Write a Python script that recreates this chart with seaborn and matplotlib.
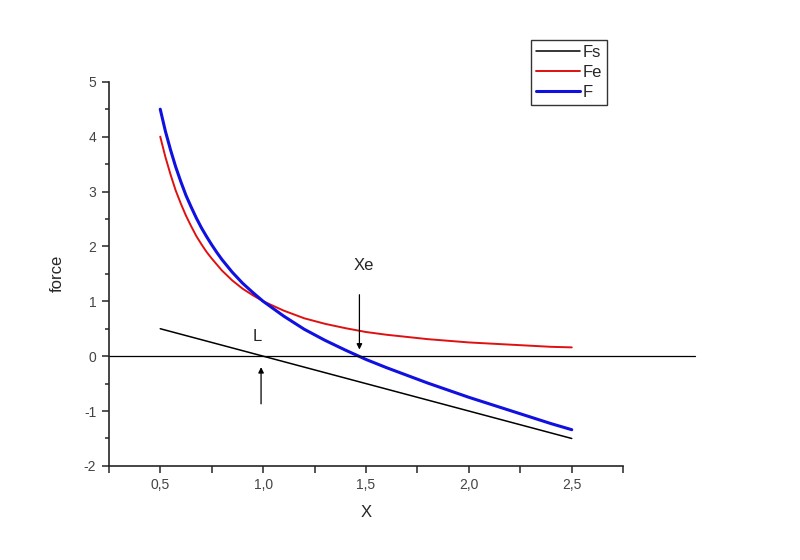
import pandas as pd
import seaborn as sns
import matplotlib.pyplot as plt
from matplotlib.ticker import MultipleLocator, FuncFormatter

# values
x_vals = [0.5, 0.525, 0.55, 0.575, 0.6, 0.625, 0.65, 0.675, 0.7, 0.725, 0.75, 0.775,
          0.8, 0.85, 0.9, 0.95, 1.0, 1.1, 1.2, 1.3, 1.4, 1.5, 1.6, 1.7, 1.8, 1.9,
          2.0, 2.1, 2.2, 2.3, 2.4, 2.5]
fs_vals = [0.5, 0.475, 0.45, 0.425, 0.4, 0.375, 0.35, 0.325, 0.3, 0.275, 0.25, 0.225,
           0.2, 0.15, 0.1, 0.05, 0.0, -0.1, -0.2, -0.3, -0.4, -0.5, -0.6, -0.7, -0.8, -0.9,
           -1.0, -1.1, -1.2, -1.3, -1.4, -1.5]
fe_vals = [4.00, 3.63, 3.31, 3.02, 2.78, 2.56, 2.37, 2.19, 2.04, 1.90, 1.78, 1.67,
           1.56, 1.38, 1.23, 1.11, 1.00, 0.83, 0.69, 0.59, 0.51, 0.44, 0.39, 0.35, 0.31, 0.28,
           0.25, 0.23, 0.21, 0.19, 0.17, 0.16]
f_vals = [4.50, 4.10, 3.76, 3.45, 3.18, 2.93, 2.72, 2.52, 2.34, 2.18, 2.03, 1.89,
          1.76, 1.53, 1.33, 1.16, 1.00, 0.73, 0.49, 0.29, 0.11, -0.06, -0.21, -0.35, -0.49, -0.62,
          -0.75, -0.87, -0.99, -1.11, -1.23, -1.34]
series_names = ['Fs', 'Fe', 'F']

df = pd.DataFrame({'x': x_vals, 'Fs': fs_vals, 'Fe': fe_vals, 'F': f_vals})

sns.set_style('ticks')
plt.rcParams['font.family'] = ['Liberation Sans', 'DejaVu Sans']

fig = plt.figure(figsize=(8, 5.6), dpi=100)
ax = fig.add_axes([0.136, 0.168, 0.643, 0.686])

colors = {'Fs': 'black', 'Fe': '#e01010', 'F': '#1010e0'}
widths = {'Fs': 1.1, 'Fe': 1.4, 'F': 2.2}
for name in series_names:
    sns.lineplot(data=df, x='x', y=name, ax=ax, color=colors[name],
                 linewidth=widths[name], label=name,
                 solid_joinstyle='round', solid_capstyle='round')

# zero line, running past the end of the axis
ax.plot([0.25, 3.1], [0, 0], color='black', linewidth=0.9, clip_on=False)

ax.set_xlim(0.25, 2.75)
ax.set_ylim(-2, 5)
ax.xaxis.set_major_locator(MultipleLocator(0.5))
ax.xaxis.set_minor_locator(MultipleLocator(0.25))
ax.yaxis.set_major_locator(MultipleLocator(1))
ax.yaxis.set_minor_locator(MultipleLocator(0.5))
ax.xaxis.set_major_formatter(FuncFormatter(lambda v, p: f'{v:.1f}'.replace('.', ',')))
ax.yaxis.set_major_formatter(FuncFormatter(lambda v, p: f'{v:.0f}'))
ax.set_xticks([0.5, 1.0, 1.5, 2.0, 2.5])
ax.tick_params(axis='both', which='major', length=5, width=1.1, labelsize=10,
               labelcolor='#444444', direction='out', pad=4)
ax.tick_params(axis='both', which='minor', length=3, width=1.1, direction='out')
ax.tick_params(axis='x', which='minor', length=5)

for side in ['top', 'right']:
    ax.spines[side].set_visible(False)
for side in ['left', 'bottom']:
    ax.spines[side].set_linewidth(1.2)

ax.set_xlabel('X', fontsize=12, labelpad=9)
ax.set_ylabel('force', fontsize=12, labelpad=14)

# markers for L and Xe
ax.annotate('', xy=(0.99, -0.15), xytext=(0.99, -0.92),
            arrowprops=dict(arrowstyle='-|>', color='black', lw=0.9, mutation_scale=8))
ax.text(0.97, 0.35, 'L', fontsize=12, ha='center', va='center')
ax.annotate('', xy=(1.468, 0.07), xytext=(1.468, 1.17),
            arrowprops=dict(arrowstyle='-|>', color='black', lw=0.9, mutation_scale=8))
ax.text(1.49, 1.66, 'Xe', fontsize=12, ha='center', va='center')

leg = ax.legend(loc='upper left', bbox_to_anchor=(0.664, 0.929),
                bbox_transform=fig.transFigure, fontsize=12, frameon=True,
                fancybox=False, borderaxespad=0, handlelength=2.6,
                handletextpad=0.2, borderpad=0.3, labelspacing=0.3)
leg.get_frame().set_edgecolor('black')
leg.get_frame().set_linewidth(1.0)

fig.savefig('out.png', dpi=100)
